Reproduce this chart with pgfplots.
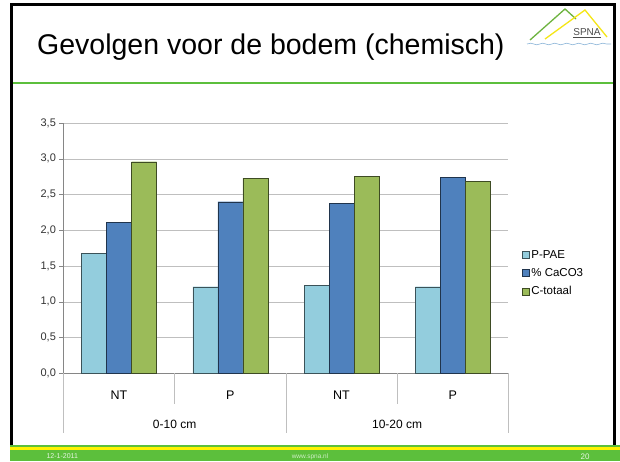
\documentclass[border=0pt]{standalone}
\usepackage{fontspec}
\setmainfont{Liberation Sans}
\usepackage{pgfplots}
\pgfplotsset{compat=1.18}
\usetikzlibrary{decorations.pathmorphing}

\definecolor{cPPAE}{HTML}{93CDDD}
\definecolor{cCaCO}{HTML}{4F81BD}
\definecolor{cCtot}{HTML}{9BBB59}
\definecolor{slidegreen}{HTML}{5CBF3C}
\definecolor{gridgray}{HTML}{BFBFBF}
\definecolor{axgray}{HTML}{868686}
\definecolor{logogreen}{HTML}{6DB33F}
\definecolor{logoyellow}{HTML}{F5E616}
\definecolor{logoblue}{HTML}{8AB4D8}

\pgfplotsset{
  sqlegend/.style={legend image code/.code={%
    \draw[##1,/tikz/.cd] (0pt,-3.5pt) rectangle (7pt,3.5pt);}},
}

\begin{document}
\begin{tikzpicture}[x=1pt,y=1pt]
\path[use as bounding box, fill=white] (0,0) rectangle (620,461);

% slide frame and title
\draw[black, line width=3pt] (11,14) -- (11,456) -- (614.5,456) -- (614.5,14);
\draw[slidegreen, line width=2.5pt] (12.5,378) -- (613,378);
\node[anchor=base west, inner sep=0pt, font=\fontsize{28.5}{32}\selectfont]
  at (37,406) {Gevolgen voor de bodem (chemisch)};

% logo
\draw[logogreen, line width=1.3pt] (530,421) -- (565,452) -- (576,442);
\draw[logoyellow, line width=1.3pt] (545,422) -- (585,451) -- (607,424);
\draw[logoblue, line width=0.6pt, decorate,
  decoration={snake, amplitude=0.8pt, segment length=12pt}] (527,417) -- (611,417);
\node[font=\fontsize{10}{10}\selectfont, text=black!70, inner sep=0pt] at (587,428.5) {SPNA};
\draw[black!70, line width=0.5pt] (573,423.5) -- (601,423.5);

% footer
\fill[slidegreen] (9.5,0) rectangle (620,16);
\fill[yellow] (9.5,11.5) rectangle (620,14);
\node[anchor=west, font=\fontsize{7}{8}\selectfont, text=white!85!slidegreen] at (43,4.5) {12-1-2011};
\node[font=\fontsize{6.5}{8}\selectfont, text=white!70!slidegreen] at (310,4) {www.spna.nl};
\node[anchor=east, font=\fontsize{8}{9}\selectfont, text=white!85!slidegreen] at (593,4.5) {20};

\begin{axis}[
  at={(57,123)}, anchor=south west,
  scale only axis, width=445pt, height=250pt,
  xmin=-0.5, xmax=3.5, ymin=0, ymax=3.5,
  ybar=0pt, bar width=25pt,
  axis x line*=bottom, axis y line*=left,
  axis line style={axgray},
  xtick={0,1,2,3}, xticklabels={NT,P,NT,P},
  x tick style={draw=none},
  xticklabel style={anchor=center, yshift=-18pt, font=\fontsize{12.5}{14}\selectfont},
  ytick={0,0.5,...,3.5},
  ymajorgrids, grid style={gridgray},
  y tick style={axgray}, tick align=outside, major tick length=4pt,
  yticklabel style={/pgf/number format/.cd, fixed, fixed zerofill, precision=1,
    use comma, assume math mode=true, /tikz/.cd,
    font=\fontsize{11}{13}\selectfont, text=black!80},
  clip=false,
  legend style={at={(1.03,0.50)}, anchor=north west, draw=none, fill=none,
    font=\fontsize{11.5}{13}\selectfont, row sep=4.5pt, inner sep=0pt,
    /tikz/every even column/.append style={column sep=2pt}},
  legend cell align=left,
]
\addplot[fill=cPPAE, draw=cPPAE!40!black, sqlegend]
  coordinates {(0,1.68) (1,1.21) (2,1.23) (3,1.21)};
\addplot[fill=cCaCO, draw=cCaCO!40!black, sqlegend]
  coordinates {(0,2.11) (1,2.40) (2,2.38) (3,2.74)};
\addplot[fill=cCtot, draw=cCtot!40!black, sqlegend]
  coordinates {(0,2.96) (1,2.73) (2,2.76) (3,2.69)};
\legend{P-PAE, \% CaCO3, C-totaal}

% category dividers and group labels
\draw[gridgray] (axis cs:0.5,0) -- ++(0pt,-31pt);
\draw[gridgray] (axis cs:2.5,0) -- ++(0pt,-31pt);
\draw[gridgray] (axis cs:-0.5,0) -- ++(0pt,-60pt);
\draw[gridgray] (axis cs:1.5,0) -- ++(0pt,-60pt);
\draw[gridgray] (axis cs:3.5,0) -- ++(0pt,-60pt);
\node[font=\fontsize{12}{14}\selectfont, yshift=-51pt] at (axis cs:0.5,0) {0-10 cm};
\node[font=\fontsize{12}{14}\selectfont, yshift=-51pt] at (axis cs:2.5,0) {10-20 cm};
\end{axis}
\end{tikzpicture}
\end{document}
